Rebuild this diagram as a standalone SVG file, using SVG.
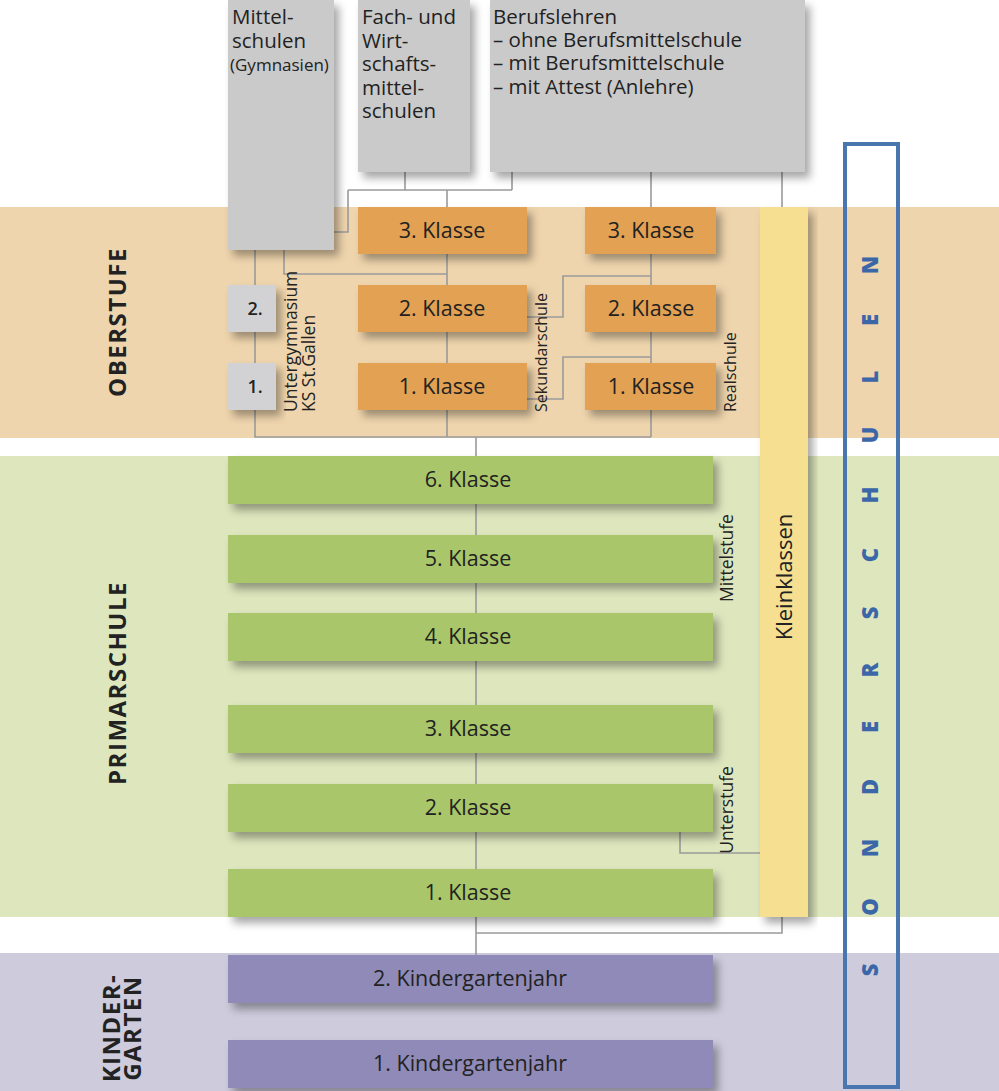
<svg xmlns="http://www.w3.org/2000/svg" width="999" height="1091" viewBox="0 0 999 1091">
<defs>
<filter id="sh" x="-10%" y="-10%" width="130%" height="140%">
<feDropShadow dx="5" dy="6" stdDeviation="4" flood-color="#000" flood-opacity="0.35"/>
</filter>
<style>
text{font-family:"Open Sans","Noto Sans","Liberation Sans",sans-serif;fill:#222}
.gray{fill:#cacaca;filter:url(#sh)}
.gsm{fill:#d2d2d5;filter:url(#sh)}
.or{fill:#e2a152;filter:url(#sh)}
.gr{fill:#a9c76b;filter:url(#sh)}
.pu{fill:#8f8ab8;filter:url(#sh)}
.kk{fill:#f6df90;filter:url(#sh)}
.top{font-size:20.5px}
.kl{font-size:21.5px;text-anchor:middle}
.rot{font-size:16px}
.rotl{font-size:17.5px}
.sec{font-size:24px;font-weight:700;letter-spacing:1.5px;text-anchor:middle}
.conn{fill:none;stroke:#9a9a9a;stroke-width:1.6}
.so{font-size:22px;font-weight:800;fill:#3b67a8;text-anchor:middle}
</style>
</defs>
<rect width="999" height="1091" fill="#fff"/>
<g id="bands">
<rect x="0" y="207" width="999" height="231" fill="#efd5ad"/>
<rect x="0" y="456" width="999" height="461" fill="#dde6bd"/>
<rect x="0" y="953" width="999" height="138" fill="#cdcbdc"/>
</g>
<g id="section-labels">
<text class="sec" transform="translate(126,322) rotate(-90)">OBERSTUFE</text>
<text class="sec" transform="translate(126,683) rotate(-90)">PRIMARSCHULE</text>
<text class="sec" transform="translate(120,1028) rotate(-90)">KINDER-</text>
<text class="sec" transform="translate(141,1028) rotate(-90)">GARTEN</text>
</g>
<g id="connectors" class="conn">
<path d="M405,172V190"/>
<path d="M512,172V190"/>
<path d="M348,190H512"/>
<path d="M348,190V232H334"/>
<path d="M447,190V437"/>
<path d="M651,172V437"/>
<path d="M782,172V207"/>
<path d="M255,250V437H651"/>
<path d="M284,250V274H447"/>
<path d="M527,317H563V276H651"/>
<path d="M527,399H563V357H651"/>
<path d="M476,437V955"/>
<path d="M680,832V853H760"/>
<path d="M782,917V933H476"/>
</g>
<g id="mittelschulen">
<rect class="gray" x="228" y="0" width="106" height="250"/>
<text class="top" x="232" y="24">Mittel-</text>
<text class="top" x="232" y="48">schulen</text>
<text x="230" y="71" style="font-size:17px">(Gymnasien)</text>
</g>
<g id="fachschulen">
<rect class="gray" x="358" y="0" width="112" height="172"/>
<text class="top" x="362" y="24">Fach- und</text>
<text class="top" x="362" y="48">Wirt-</text>
<text class="top" x="362" y="71">schafts-</text>
<text class="top" x="362" y="95">mittel-</text>
<text class="top" x="362" y="118">schulen</text>
</g>
<g id="berufslehren">
<rect class="gray" x="490" y="0" width="315" height="172"/>
<text class="top" x="493" y="24">Berufslehren</text>
<text class="top" x="493" y="47">– ohne Berufsmittelschule</text>
<text class="top" x="493" y="70">– mit Berufsmittelschule</text>
<text class="top" x="493" y="94">– mit Attest (Anlehre)</text>
</g>
<g id="untergymnasium">
<rect class="gsm" x="228" y="285" width="48" height="47"/>
<text x="255" y="315" style="font-size:18px;font-weight:600;text-anchor:middle">2.</text>
<rect class="gsm" x="228" y="363" width="48" height="47"/>
<text x="255" y="393" style="font-size:18px;font-weight:600;text-anchor:middle">1.</text>
<text class="rotl" transform="translate(297,412) rotate(-90)">Untergymnasium</text>
<text class="rotl" transform="translate(315,412) rotate(-90)">KS St.Gallen</text>
</g>
<g id="sekundarschule">
<rect class="or" x="358" y="207" width="169" height="47"/>
<text class="kl" x="442" y="238">3. Klasse</text>
<rect class="or" x="358" y="285" width="169" height="47"/>
<text class="kl" x="442" y="316">2. Klasse</text>
<rect class="or" x="358" y="363" width="169" height="47"/>
<text class="kl" x="442" y="394">1. Klasse</text>
<text class="rot" transform="translate(547,412) rotate(-90)">Sekundarschule</text>
</g>
<g id="realschule">
<rect class="or" x="585" y="207" width="131" height="47"/>
<text class="kl" x="651" y="238">3. Klasse</text>
<rect class="or" x="585" y="285" width="131" height="47"/>
<text class="kl" x="651" y="316">2. Klasse</text>
<rect class="or" x="585" y="363" width="131" height="47"/>
<text class="kl" x="651" y="394">1. Klasse</text>
<text class="rot" transform="translate(736,412) rotate(-90)">Realschule</text>
</g>
<g id="primarschule">
<rect class="gr" x="228" y="456" width="485" height="48"/>
<text class="kl" x="468" y="487">6. Klasse</text>
<rect class="gr" x="228" y="535" width="485" height="48"/>
<text class="kl" x="468" y="566">5. Klasse</text>
<rect class="gr" x="228" y="613" width="485" height="48"/>
<text class="kl" x="468" y="644">4. Klasse</text>
<rect class="gr" x="228" y="705" width="485" height="48"/>
<text class="kl" x="468" y="736">3. Klasse</text>
<rect class="gr" x="228" y="784" width="485" height="48"/>
<text class="kl" x="468" y="815">2. Klasse</text>
<rect class="gr" x="228" y="869" width="485" height="48"/>
<text class="kl" x="468" y="900">1. Klasse</text>
<text class="rotl" style="text-anchor:middle" transform="translate(733,558) rotate(-90)">Mittelstufe</text>
<text class="rotl" style="text-anchor:middle" transform="translate(733,810) rotate(-90)">Unterstufe</text>
</g>
<g id="kleinklassen">
<rect class="kk" x="760" y="207" width="48" height="710"/>
<text transform="translate(792,577) rotate(-90)" style="font-size:22px;text-anchor:middle">Kleinklassen</text>
</g>
<g id="kindergarten">
<rect class="pu" x="228" y="955" width="485" height="48"/>
<text class="kl" x="470" y="986">2. Kindergartenjahr</text>
<rect class="pu" x="228" y="1040" width="485" height="48"/>
<text class="kl" x="470" y="1071">1. Kindergartenjahr</text>
</g>
<g id="sonderschulen">
<rect x="845" y="144" width="53" height="943" fill="none" stroke="#4a76b0" stroke-width="4"/>
<text class="so" transform="translate(878,0) rotate(-90)" x="-970 -907 -848 -787 -727 -670 -613 -555 -495 -435 -377 -320 -265" y="0">SONDERSCHULEN</text>
</g>
</svg>
